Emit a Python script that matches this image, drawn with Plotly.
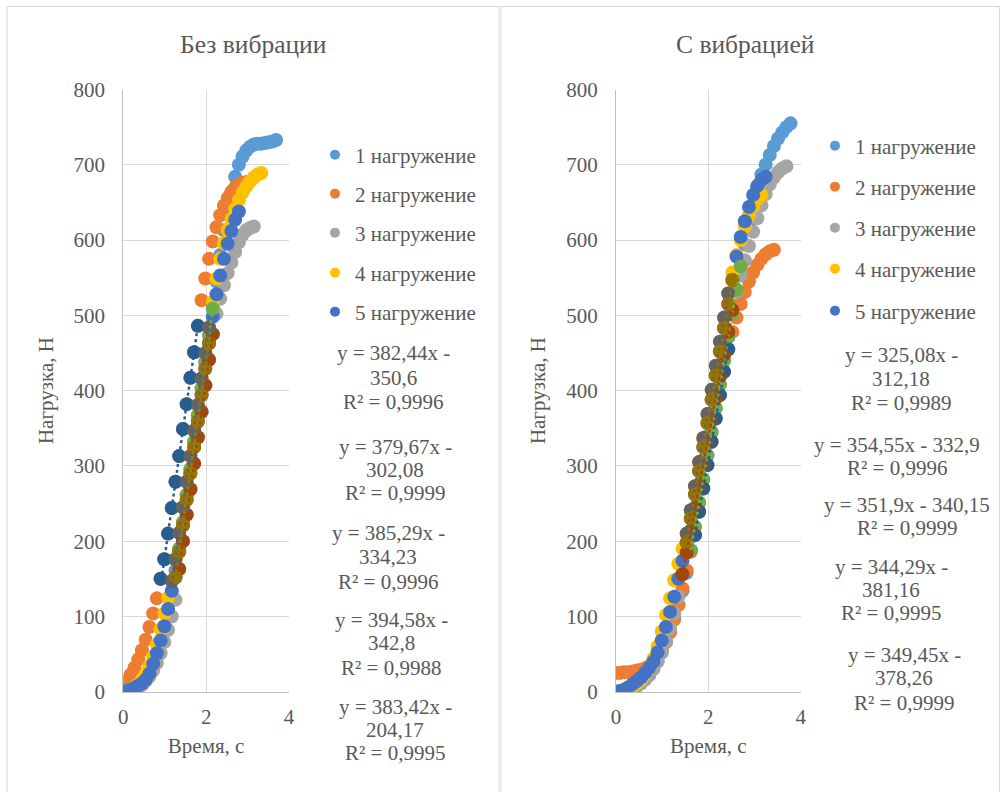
import plotly.graph_objects as go

# ---------------- data ----------------
TIME = [0.00, 0.09, 0.18, 0.27, 0.36, 0.45, 0.54, 0.63, 0.72, 0.81,
        0.90, 0.99, 1.08, 1.17, 1.26, 1.35, 1.44, 1.53, 1.62, 1.71,
        1.80, 1.89, 1.98, 2.07, 2.16, 2.25, 2.34, 2.43, 2.52, 2.61,
        2.70, 2.79, 2.88, 2.97, 3.06, 3.15, 3.24, 3.33, 3.42, 3.51,
        3.60, 3.69, 3.78]

SERIES_NAMES = ["1 нагружение", "2 нагружение", "3 нагружение", "4 нагружение", "5 нагружение"]

# Без вибрации (loads, N)
LOAD_L1 = [0, 1, 2, 4, 7, 11, 17, 25, 35, 48, 64, 84, 108, 134, 161, 190, 225, 261, 296, 332,
           367, 403, 438, 474, 509, 545, 580, 613, 642, 664, 684, 700, 711, 719, 724, 727, 728,
           728, 729, 730, 731, 733]
LOAD_L2 = [12, 16, 23, 32, 43, 55, 69, 86, 104, 124, 150, 176, 210, 244, 279, 313, 349, 382, 417,
           451, 486, 520, 549, 575, 598, 617, 633, 646, 656, 664, 670, 674, 676, 677]
LOAD_L3 = [0, 0, 1, 3, 5, 9, 14, 20, 28, 38, 51, 66, 82, 100, 122, 163, 200, 235, 269, 303, 338,
           372, 407, 441, 475, 502, 522, 540, 556, 570, 584, 597, 607, 613, 616, 618]
LOAD_L4 = [0, 1, 3, 6, 10, 16, 24, 34, 47, 63, 83, 104, 125, 147, 176, 211, 245, 279, 313, 347,
           381, 416, 450, 484, 518, 549, 575, 596, 613, 628, 641, 653, 663, 671, 678, 683, 687, 689]
LOAD_L5 = [0, 1, 3, 5, 8, 11, 16, 24, 37, 51, 68, 87, 110, 134, 152, 186, 221, 255, 290, 325, 359,
           394, 429, 463, 498, 528, 553, 575, 595, 612, 627, 638]

# С вибрацией (loads, N)
LOAD_R1 = [0, 0, 1, 2, 4, 7, 11, 16, 22, 30, 40, 52, 66, 80, 97, 116, 134, 158, 188, 219, 251, 282,
           314, 345, 377, 408, 440, 471, 502, 534, 565, 594, 622, 648, 670, 687, 700, 713, 725, 735,
           743, 750, 755]
LOAD_R2 = [25, 25, 26, 26, 27, 28, 29, 31, 34, 39, 46, 55, 66, 79, 96, 115, 137, 161, 186, 208, 239,
           270, 301, 332, 363, 394, 425, 455, 478, 497, 515, 531, 545, 557, 567, 575, 581, 585, 587]
LOAD_R3 = [0, 0, 1, 3, 5, 8, 12, 17, 23, 31, 41, 53, 67, 84, 104, 126, 156, 185, 214, 244, 273, 302,
           331, 361, 390, 419, 448, 478, 507, 531, 553, 573, 592, 611, 629, 646, 661, 674, 683, 690,
           695, 698]
LOAD_R4 = [0, 1, 2, 4, 7, 11, 16, 23, 32, 44, 60, 80, 102, 124, 148, 170, 190, 210, 241, 273, 305,
           337, 369, 401, 433, 465, 497, 529, 557, 580, 600, 618, 633, 645, 654, 660]
LOAD_R5 = [0, 1, 3, 6, 10, 14, 19, 25, 32, 40, 52, 68, 86, 106, 126, 150, 174, 198, 230, 262, 293,
           325, 357, 388, 420, 452, 483, 515, 547, 578, 604, 625, 644, 660, 672, 680, 684]

# linear segments (time range) used for the trend lines, per loading
LIN_RANGE_L = [(1.35, 2.16), (0.90, 1.80), (1.35, 2.16), (1.17, 2.07), (1.26, 2.07)]
LIN_RANGE_R = [(1.62, 2.70), (1.71, 2.43), (1.44, 2.52), (1.53, 2.43), (1.53, 2.52)]

# trend line coefficients (slope, intercept)
TREND_L = [(394.58, -342.8), (383.42, -204.17), (382.44, -350.6), (379.67, -302.08), (385.29, -334.23)]
TREND_R = [(349.45, -378.26), (344.29, -381.16), (325.08, -312.18), (354.55, -332.9), (351.9, -340.15)]

EQ_LINES_L = [["y = 382,44x -", "350,6", "R² = 0,9996"],
              ["y = 379,67x -", "302,08", "R² = 0,9999"],
              ["y = 385,29x -", "334,23", "R² = 0,9996"],
              ["y = 394,58x -", "342,8", "R² = 0,9988"],
              ["y = 383,42x -", "204,17", "R² = 0,9995"]]
EQ_LINES_R = [["y = 325,08x -", "312,18", "R² = 0,9989"],
              ["y = 354,55x - 332,9", "R² = 0,9996"],
              ["y = 351,9x - 340,15", "R² = 0,9999"],
              ["y = 344,29x -", "381,16", "R² = 0,9995"],
              ["y = 349,45x -", "378,26", "R² = 0,9999"]]

TITLES = ["Без вибрации", "С вибрацией"]
X_TITLE = "Время, с"
Y_TITLE = "Нагрузка, Н"

# ---------------- style ----------------
W, H = 1002, 792
FONT = "Liberation Serif, Times New Roman, Tinos, DejaVu Serif, serif"
TXT = "#595959"
MAIN_COLORS = ["#5B9BD5", "#ED7D31", "#A5A5A5", "#FFC000", "#4472C4"]
DARK_COLORS = ["#70AD47", "#255E91", "#9E480E", "#636363", "#997300"]
MS = 14


def px_x(p):
    return p / W


def px_y(p):
    return 1 - p / H


fig = go.Figure()

panels = [
    dict(loads=[LOAD_L1, LOAD_L2, LOAD_L3, LOAD_L4, LOAD_L5], rng=LIN_RANGE_L, trend=TREND_L, xa="x", ya="y"),
    dict(loads=[LOAD_R1, LOAD_R2, LOAD_R3, LOAD_R4, LOAD_R5], rng=LIN_RANGE_R, trend=TREND_R, xa="x2", ya="y2"),
]

for p in panels:
    # main series
    for i, ld in enumerate(p["loads"]):
        fig.add_trace(go.Scatter(x=TIME[:len(ld)], y=ld, mode="markers", name=SERIES_NAMES[i],
                                 marker=dict(color=MAIN_COLORS[i], size=MS, line=dict(width=0)),
                                 xaxis=p["xa"], yaxis=p["ya"], showlegend=False))
    # linear-part series
    for i, ld in enumerate(p["loads"]):
        t0, t1 = p["rng"][i]
        xs, ys = [], []
        for t, v in zip(TIME, ld):
            if t0 - 1e-9 <= t <= t1 + 1e-9:
                xs.append(t)
                ys.append(v)
        fig.add_trace(go.Scatter(x=xs, y=ys, mode="markers", name=SERIES_NAMES[i] + " (лин.)",
                                 marker=dict(color=DARK_COLORS[i], size=MS, line=dict(width=0)),
                                 xaxis=p["xa"], yaxis=p["ya"], showlegend=False))
    # trend lines
    for i, ld in enumerate(p["loads"]):
        t0, t1 = p["rng"][i]
        a, b = p["trend"][i]
        fig.add_trace(go.Scatter(x=[t0, t1], y=[a * t0 + b, a * t1 + b], mode="lines",
                                 line=dict(color=DARK_COLORS[i], width=2.5, dash="dot"),
                                 xaxis=p["xa"], yaxis=p["ya"], showlegend=False, hoverinfo="skip"))

# legends (one item each, placed like the original)
LEG_Y_L = [155, 194, 233, 273, 312]
LEG_Y_R = [146, 187, 228, 269, 311]
legends = {}
k = 0
for side, ys, xtext, xa, ya in [("L", LEG_Y_L, 355, "x", "y"), ("R", LEG_Y_R, 855, "x2", "y2")]:
    for i in range(5):
        k += 1
        lname = "legend" if k == 1 else f"legend{k}"
        fig.add_trace(go.Scatter(x=[None], y=[None], mode="markers", name=SERIES_NAMES[i],
                                 marker=dict(color=MAIN_COLORS[i], size=10),
                                 xaxis=xa, yaxis=ya, showlegend=True, legend=lname))
        legends[lname] = dict(x=px_x(xtext - 40), y=px_y(ys[i]), xanchor="left", yanchor="middle",
                              bgcolor="rgba(0,0,0,0)", borderwidth=0,
                              font=dict(family=FONT, size=21, color=TXT))

ann = []
# titles
for txt, cx in zip(TITLES, [253, 745]):
    ann.append(dict(text=txt, x=px_x(cx), y=px_y(45), xref="paper", yref="paper",
                    xanchor="center", yanchor="middle", showarrow=False,
                    font=dict(family=FONT, size=25.5, color=TXT)))
# equations
EQ_POS_L = [(393, [353, 378, 402]), (395, [447, 470, 493]), (388, [533, 557, 582]),
            (391, [620, 643, 668]), (395, [707, 730, 753])]
EQ_POS_R = [(901, [355, 379, 403]), (897, [445, 468]), (907, [505, 528]),
            (891, [567, 590, 613]), (904, [655, 678, 703])]
for lines_set, pos_set in [(EQ_LINES_L, EQ_POS_L), (EQ_LINES_R, EQ_POS_R)]:
    for lines, (cx, ys) in zip(lines_set, pos_set):
        for line, yy in zip(lines, ys):
            ann.append(dict(text=line, x=px_x(cx), y=px_y(yy), xref="paper", yref="paper",
                            xanchor="center", yanchor="middle", showarrow=False,
                            font=dict(family=FONT, size=21, color=TXT)))

shapes = [
    dict(type="rect", xref="paper", yref="paper", x0=px_x(7), x1=px_x(499), y0=px_y(800), y1=px_y(6.5),
         line=dict(color="#D9D9D9", width=1), fillcolor="rgba(0,0,0,0)", layer="below"),
    dict(type="rect", xref="paper", yref="paper", x0=px_x(501), x1=px_x(999.5), y0=px_y(800), y1=px_y(6.5),
         line=dict(color="#D9D9D9", width=1), fillcolor="rgba(0,0,0,0)", layer="below"),
]

tickfont = dict(family=FONT, size=21, color=TXT)
titlefont = dict(family=FONT, size=21, color=TXT)


def xaxis(domain, anchor):
    return dict(domain=domain, anchor=anchor, range=[0, 4], dtick=2, tick0=0, automargin=False,
                showgrid=True, gridcolor="#D9D9D9", gridwidth=1, zeroline=False,
                showline=True, linecolor="#BFBFBF", linewidth=1, ticks="",
                tickfont=tickfont, ticklabelstandoff=6,
                title=dict(text=X_TITLE, font=titlefont, standoff=10), fixedrange=True)


def yaxis(anchor):
    return dict(domain=[px_y(691.7), px_y(89.5)], anchor=anchor, range=[0, 800], dtick=100, tick0=0,
                automargin=False,
                showgrid=True, gridcolor="#D9D9D9", gridwidth=1, zeroline=False,
                showline=True, linecolor="#BFBFBF", linewidth=1, ticks="",
                tickfont=tickfont, ticklabelstandoff=13,
                title=dict(text=Y_TITLE, font=titlefont, standoff=14), fixedrange=True)


fig.update_layout(
    width=W, height=H, margin=dict(l=0, r=0, t=0, b=0, autoexpand=False),
    paper_bgcolor="white", plot_bgcolor="white",
    xaxis=xaxis([px_x(123.3), px_x(289)], "y"),
    yaxis=yaxis("x"),
    xaxis2=xaxis([px_x(616), px_x(800.7)], "y2"),
    yaxis2=yaxis("x2"),
    annotations=ann, shapes=shapes, showlegend=True,
    **legends,
)

fig.write_html("out.html", config={"displayModeBar": False},
               post_script="document.body.style.margin='0';")
